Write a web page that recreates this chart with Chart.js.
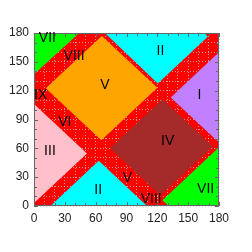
<!DOCTYPE html>
<html>
<head>
<meta charset="utf-8">
<script src="https://cdn.jsdelivr.net/npm/chart.js@4.4.1/dist/chart.umd.min.js"></script>
<style>
  html, body { margin: 0; padding: 0; background: #fff; }
  #wrap { width: 252px; height: 252px; }
</style>
</head>
<body>
<div id="wrap"><canvas id="phase"></canvas></div>
<script>
// ── Region outlines (x, y in degrees) ──────────────────────
const regI_x    = [133, 180, 180];
const regI_y    = [113, 160, 66];
const regIIt_x  = [69, 166, 169, 120.5];
const regIIt_y  = [180, 180, 176, 127.5];
const regIIb_x  = [16, 63, 110];
const regIIb_y  = [0, 47, 0];
const regIII_x  = [0, 0, 51.5];
const regIII_y  = [3, 106, 54.5];
const regIV_x   = [125, 174, 123, 74];
const regIV_y   = [111, 62, 11, 60];
const regV_x    = [11.5, 66, 120, 65.5];
const regV_y    = [122.5, 177, 123, 68.5];
const regVIIt_x = [0, 0, 44];
const regVIIt_y = [180, 137, 180];
const regVIIb_x = [180, 180, 125, 131];
const regVIIb_y = [0, 61, 6, 0];

// ── Region labels ──────────────────────────────────────────
const labelText = ['VII', 'VIII', 'V', 'II', 'I', 'IX', 'VI', 'III', 'IV', 'II', 'V', 'VIII', 'VII'];
const labelX    = [13, 39, 69, 123, 161, 6.5, 30, 15.5, 130, 62.5, 91, 114, 167];
const labelY    = [175, 156, 126, 161.5, 115.5, 115.5, 87.5, 57, 67.5, 17, 28.5, 7, 17.5];

// ── Axis ticks ─────────────────────────────────────────────
const axisMin = 0, axisMax = 180, minorStep = 10, majorStep = 30;

function poly(xs, ys, color) {
  const pts = xs.map((x, i) => ({ x: x, y: ys[i] }));
  pts.push({ x: xs[0], y: ys[0] });
  return {
    data: pts,
    showLine: true,
    fill: 'shape',
    backgroundColor: color,
    borderWidth: 0,
    borderColor: 'rgba(0,0,0,0)',
    pointRadius: 0,
    tension: 0,
  };
}

const bgPlugin = {
  id: 'bg',
  beforeDraw(chart) {
    const { ctx, chartArea: a } = chart;
    ctx.save();
    ctx.fillStyle = '#ff0000';
    ctx.fillRect(a.left, a.top, a.right - a.left, a.bottom - a.top);
    ctx.restore();
  }
};

const framePlugin = {
  id: 'frame',
  afterDraw(chart) {
    const { ctx, chartArea: a, scales } = chart;
    ctx.save();
    // frame + inward ticks
    ctx.strokeStyle = '#666';
    ctx.lineWidth = 1;
    ctx.strokeRect(a.left + 0.5, a.top + 0.5, a.right - a.left - 1, a.bottom - a.top - 1);
    ctx.beginPath();
    for (let v = axisMin; v <= axisMax; v += minorStep) {
      const len = v % majorStep === 0 ? 4 : 3;
      const px = Math.round(scales.x.getPixelForValue(v)) + 0.5;
      const py = Math.round(scales.y.getPixelForValue(v)) + 0.5;
      ctx.moveTo(px, a.bottom); ctx.lineTo(px, a.bottom - len);
      ctx.moveTo(px, a.top); ctx.lineTo(px, a.top + len);
      ctx.moveTo(a.left, py); ctx.lineTo(a.left + len, py);
      ctx.moveTo(a.right, py); ctx.lineTo(a.right - len, py);
    }
    ctx.stroke();
    // region labels
    ctx.fillStyle = '#000';
    ctx.font = '14px "Liberation Sans", Arial, sans-serif';
    ctx.textAlign = 'center';
    ctx.textBaseline = 'middle';
    labelText.forEach((t, i) => {
      ctx.fillText(t, scales.x.getPixelForValue(labelX[i]), scales.y.getPixelForValue(labelY[i]));
    });
    ctx.restore();
  }
};

const tickFont = { family: '"Liberation Sans", Arial, sans-serif', size: 12 };

function axis(isX) {
  return {
    type: 'linear',
    min: axisMin, max: axisMax,
    z: 1,
    grid: { color: 'rgba(200,200,200,0.75)', drawTicks: false, lineWidth: 1 },
    border: { display: false, dash: [1, 2] },
    ticks: {
      stepSize: minorStep,
      autoSkip: false,
      maxRotation: 0,
      color: '#222',
      font: tickFont,
      padding: 5,
      callback: v => (v % majorStep === 0 ? v : ''),
    },
    afterFit(scale) {
      if (isX) scale.height = 46; else scale.width = 34;
    }
  };
}

new Chart(document.getElementById('phase'), {
  type: 'scatter',
  data: {
    datasets: [
      poly(regI_x, regI_y, '#c080ff'),
      poly(regIIt_x, regIIt_y, '#00ffff'),
      poly(regIIb_x, regIIb_y, '#00ffff'),
      poly(regIII_x, regIII_y, '#ffc0cb'),
      poly(regIV_x, regIV_y, '#a52a2a'),
      poly(regV_x, regV_y, '#ffa500'),
      poly(regVIIt_x, regVIIt_y, '#00ff00'),
      poly(regVIIb_x, regVIIb_y, '#00ff00'),
    ]
  },
  options: {
    responsive: true,
    maintainAspectRatio: false,
    animation: false,
    layout: { padding: { top: 33, right: 33, left: 0, bottom: 0 } },
    plugins: { legend: { display: false }, tooltip: { enabled: false } },
    scales: { x: axis(true), y: axis(false) }
  },
  plugins: [bgPlugin, framePlugin]
});
</script>
</body>
</html>
